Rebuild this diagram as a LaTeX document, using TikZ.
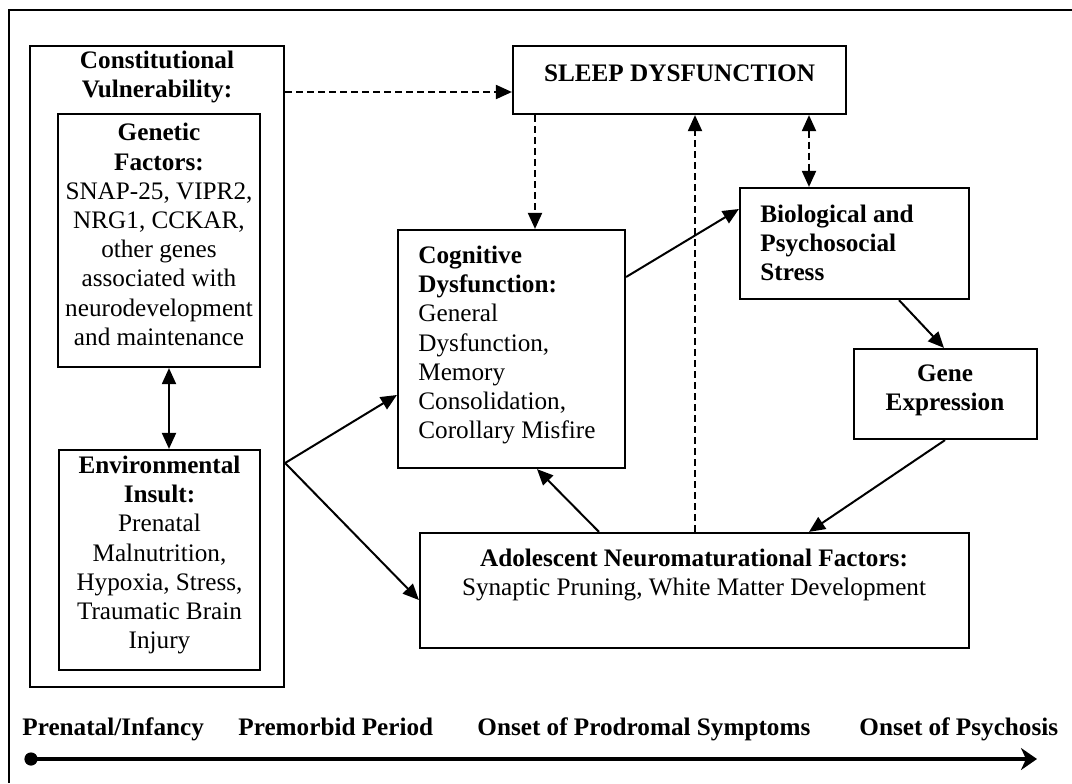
\documentclass[tikz,border=0pt]{standalone}
\usepackage{fontspec}
\setmainfont{Liberation Serif}
\usetikzlibrary{arrows.meta}

\begin{document}
\begin{tikzpicture}[x=0.5pt,y=-0.5pt,
  font=\fontsize{12.6}{14.6}\selectfont,
  box/.style={draw,line width=1.1pt,inner sep=0pt},
  arr/.style={line width=1pt,-{Triangle[length=8pt,width=7pt]}},
  dblarr/.style={line width=1pt,{Triangle[length=8pt,width=7pt]}-{Triangle[length=8pt,width=7pt]}},
  dashline/.style={dash pattern=on 3.5pt off 2pt}]
\useasboundingbox (0,0) rectangle (1072,783);

% frame
\draw[line width=1pt] (1072,10) -- (9,10) -- (9,783);

% boxes
\node[box,minimum width=127pt,minimum height=320.5pt] (const) at (157,366.5) {};
\node[box,minimum width=101pt,minimum height=126.5pt] (genetic) at (159,240.5) {};
\node[box,minimum width=100.5pt,minimum height=110pt] (env) at (159.5,560) {};
\node[box,minimum width=166.5pt,minimum height=34pt] (sleep) at (679.5,80) {};
\node[box,minimum width=113.5pt,minimum height=119pt] (cog) at (511.5,349) {};
\node[box,minimum width=114.5pt,minimum height=55.5pt] (bio) at (854.5,243.5) {};
\node[box,minimum width=91.5pt,minimum height=45pt] (gene) at (945.5,394) {};
\node[box,minimum width=274.5pt,minimum height=57.5pt] (adol) at (694.5,590.5) {};

% texts
\node[align=center] (consttxt) at (157,77) {\textbf{Constitutional}\\\textbf{Vulnerability:}};
\node[align=center] (genetxt) at (159,234.5) {\textbf{Genetic}\\\textbf{Factors:}\\SNAP-25, VIPR2,\\NRG1, CCKAR,\\other genes\\associated with\\neurodevelopment\\and maintenance};
\node[align=center] (envtxt) at (159.5,555) {\textbf{Environmental}\\\textbf{Insult:}\\Prenatal\\Malnutrition,\\Hypoxia, Stress,\\Traumatic Brain\\Injury};
\node (sleeptxt) at (679.5,73) {\textbf{SLEEP DYSFUNCTION}};
\node[align=left,anchor=west,inner xsep=0pt] (cogtxt) at (418,345) {\textbf{Cognitive}\\\textbf{Dysfunction:}\\General\\Dysfunction,\\Memory\\Consolidation,\\Corollary Misfire};
\node[align=left,anchor=west,inner xsep=0pt] (biotxt) at (760,243) {\textbf{Biological and}\\\textbf{Psychosocial}\\\textbf{Stress}};
\node[align=center] (genextxt) at (945,390) {\textbf{Gene}\\\textbf{Expression}};
\node[align=center] (adoltxt) at (694,575) {\textbf{Adolescent Neuromaturational Factors:}\\Synaptic Pruning, White Matter Development};

% dashed links with sleep
\draw[arr,dashline] (const.east |- 0,92) -- (sleep.west |- 0,92);
\draw[arr,dashline] (sleep.south -| 535,0) -- (cog.north -| 535,0);
\draw[arr,dashline] (adol.north -| 695,0) -- (sleep.south -| 695,0);
\draw[dblarr,dashline] (sleep.south -| 809,0) -- (bio.north -| 809,0);

% solid links
\draw[dblarr] (genetic.south -| 169,0) -- (env.north -| 169,0);
\draw[arr] (const.east |- 0,463) -- (cog.west |- 0,395);
\draw[arr] (const.east |- 0,463) -- (adol.west |- 0,600);
\draw[arr] (cog.east |- 0,277) -- (bio.west |- 0,209);
\draw[arr] (bio.south -| 899,0) -- (gene.north -| 944,0);
\draw[arr] (gene.south -| 945,0) -- (adol.north -| 809,0);
\draw[arr] (adol.north -| 599,0) -- (cog.south -| 537,0);

% timeline
\coordinate (tstart) at (31,759);
\coordinate (tend) at (1037,759);
\fill (tstart) circle (3.3pt);
\draw[line width=2.2pt,-{Stealth[length=8pt,width=11pt,inset=2.5pt]}] (tstart) -- (tend);
\node[anchor=base west,inner sep=0pt] (tprenatal) at (22,735) {\textbf{Prenatal/Infancy}};
\node[anchor=base west,inner sep=0pt] (tpremorbid) at (238,735) {\textbf{Premorbid Period}};
\node[anchor=base west,inner sep=0pt] (tprodrome) at (477,735) {\textbf{Onset of Prodromal Symptoms}};
\node[anchor=base west,inner sep=0pt] (tpsychosis) at (859,735) {\textbf{Onset of Psychosis}};
\end{tikzpicture}
\end{document}
